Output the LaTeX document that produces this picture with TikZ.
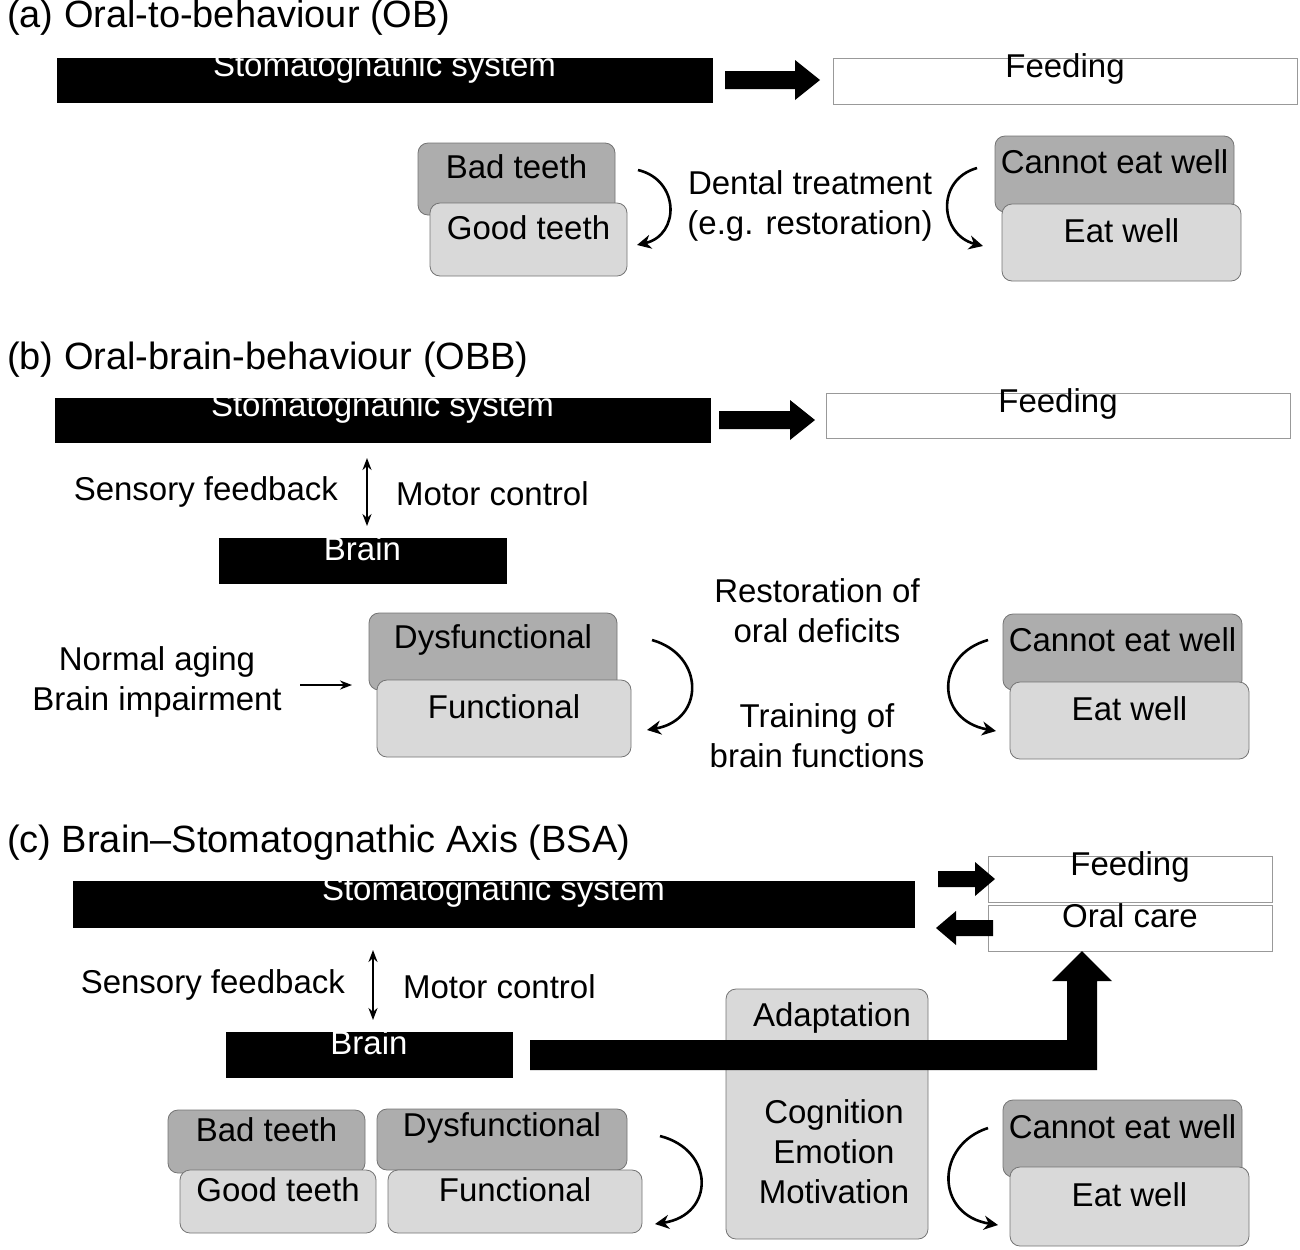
\documentclass[tikz,border=0pt]{standalone}
\usepackage{fontspec}
\setmainfont{Liberation Sans}
\usetikzlibrary{fit,arrows.meta}
\begin{document}
\begin{tikzpicture}[x=0.5pt,y=-0.5pt,font=\fontsize{16.5}{20}\selectfont,
  bar/.style={fill=black,text=white,inner sep=0,draw=black},
  wbox/.style={fill=white,draw=gray!80,inner sep=0},
  dk/.style={fill=black!32,draw=black!55,rounded corners=5pt,inner sep=0},
  lt/.style={fill=black!15,draw=black!55,rounded corners=5pt,inner sep=0},
  cur/.style={line width=1.3pt,-{Stealth[length=7pt,width=7pt]}},
  ttl/.style={anchor=west,font=\fontsize{19}{22}\selectfont},
  tx/.style={align=center}]
\useasboundingbox (0,0) rectangle (1300,1249);
% (a)
\node[ttl] (ta) at (0,18) {(a) Oral-to-behaviour (OB)};
\node[bar,fit={(57,58)(712,102)}] (sa) {Stomatognathic system};
\node[wbox,fit={(833,58)(1297,104)}] (fa) {Feeding};
\fill (725,71)--(795,71)--(795,60)--(820,80)--(795,100)--(795,89)--(725,89)--cycle;
\node[dk,fit={(418,143)(615,215)}] (bta) {Bad teeth};
\node[lt,fit={(430,203)(627,276)}] (gta) {Good teeth};
\draw[cur] (638,170) .. controls (680,180) and (680,235) .. (637,245);
\node[tx] (dta) at (810,206) {Dental treatment\\(e.g. restoration)};
\draw[cur] (977,168) .. controls (935,180) and (940,235) .. (983,246);
\node[dk,fit={(995,136)(1234,212)}] (cea) {Cannot eat well};
\node[lt,fit={(1002,204)(1241,281)}] (ewa) {Eat well};
% (b)
\node[ttl] (tb) at (0,360) {(b) Oral-brain-behaviour (OBB)};
\node[bar,fit={(55,398)(710,442)}] (sb) {Stomatognathic system};
\node[wbox,fit={(826,393)(1290,438)}] (fb) {Feeding};
\fill (719,411)--(790,411)--(790,400)--(815,420)--(790,440)--(790,429)--(719,429)--cycle;
\coordinate (b1) at (367,458); \coordinate (b2) at (367,526);
\draw[line width=1.2pt,{Stealth[length=6pt]}-{Stealth[length=6pt]}] (b1)--(b2);
\node[anchor=east] (sfb) at (345,492) {Sensory feedback};
\node[anchor=west] (mcb) at (389,494) {Motor control};
\node[bar,fit={(219,538)(506,583)}] (brb) {Brain};
\node[tx] (nab) at (157,682) {Normal aging\\Brain impairment};
\node[dk,fit={(369,613)(617,690)}] (dfb) {Dysfunctional};
\node[lt,fit={(377,680)(631,757)}] (fnb) {Functional};
\coordinate (n1) at (300,685);
\draw[line width=1.2pt,-{Stealth[length=6pt]}] (n1) -- (352,685);
\draw[cur] (652,640) .. controls (705,655) and (705,720) .. (647,730);
\node[tx] (rob) at (817,611) {Restoration of\\oral deficits};
\node[tx] (trb) at (817,736) {Training of\\brain functions};
\draw[cur] (988,640) .. controls (935,655) and (935,720) .. (996,731);
\node[dk,fit={(1003,614)(1242,690)}] (ceb) {Cannot eat well};
\node[lt,fit={(1010,682)(1249,759)}] (ewb) {Eat well};
% (c)
\node[ttl] (tc) at (0,843) {(c) Brain--Stomatognathic Axis (BSA)};
\node[bar,fit={(73,881)(914,927)}] (sc) {Stomatognathic system};
\node[wbox,fit={(988,856)(1272,902)}] (fc) {Feeding};
\node[wbox,fit={(988,905)(1272,951)}] (oc) {Oral care};
\fill (938,871)--(975,871)--(975,862)--(995,879)--(975,896)--(975,887)--(938,887)--cycle;
\fill (993,920)--(956,920)--(956,911)--(936,928)--(956,945)--(956,936)--(993,936)--cycle;
\coordinate (c1) at (373,950); \coordinate (c2) at (373,1020);
\draw[line width=1.2pt,{Stealth[length=6pt]}-{Stealth[length=6pt]}] (c1)--(c2);
\node[anchor=east] (sfc) at (352,985) {Sensory feedback};
\node[anchor=west] (mcc) at (396,987) {Motor control};
\node[bar,fit={(226,1032)(512,1077)}] (brc) {Brain};
\node[lt,fit={(726,989)(928,1239)}] (adc) {};
\node (adt) at (832,1018) {Adaptation};
\node[tx] (cgc) at (834,1152) {Cognition\\Emotion\\Motivation};
\fill (530,1040)--(1067,1040)--(1067,981)--(1052,981)--(1082,951)--(1112,981)--(1097,981)--(1097,1070)--(530,1070)--cycle;
\node[dk,fit={(168,1110)(365,1173)}] (btc) {Bad teeth};
\node[lt,fit={(180,1170)(376,1233)}] (gtc) {Good teeth};
\node[dk,fit={(377,1109)(627,1170)}] (dfc) {Dysfunctional};
\node[lt,fit={(388,1170)(642,1233)}] (fnc) {Functional};
\draw[cur] (660,1136) .. controls (715,1150) and (715,1215) .. (655,1224);
\draw[cur] (988,1128) .. controls (935,1145) and (935,1215) .. (998,1225);
\node[dk,fit={(1003,1100)(1242,1177)}] (cec) {Cannot eat well};
\node[lt,fit={(1010,1167)(1249,1246)}] (ewc) {Eat well};
\end{tikzpicture}
\end{document}
